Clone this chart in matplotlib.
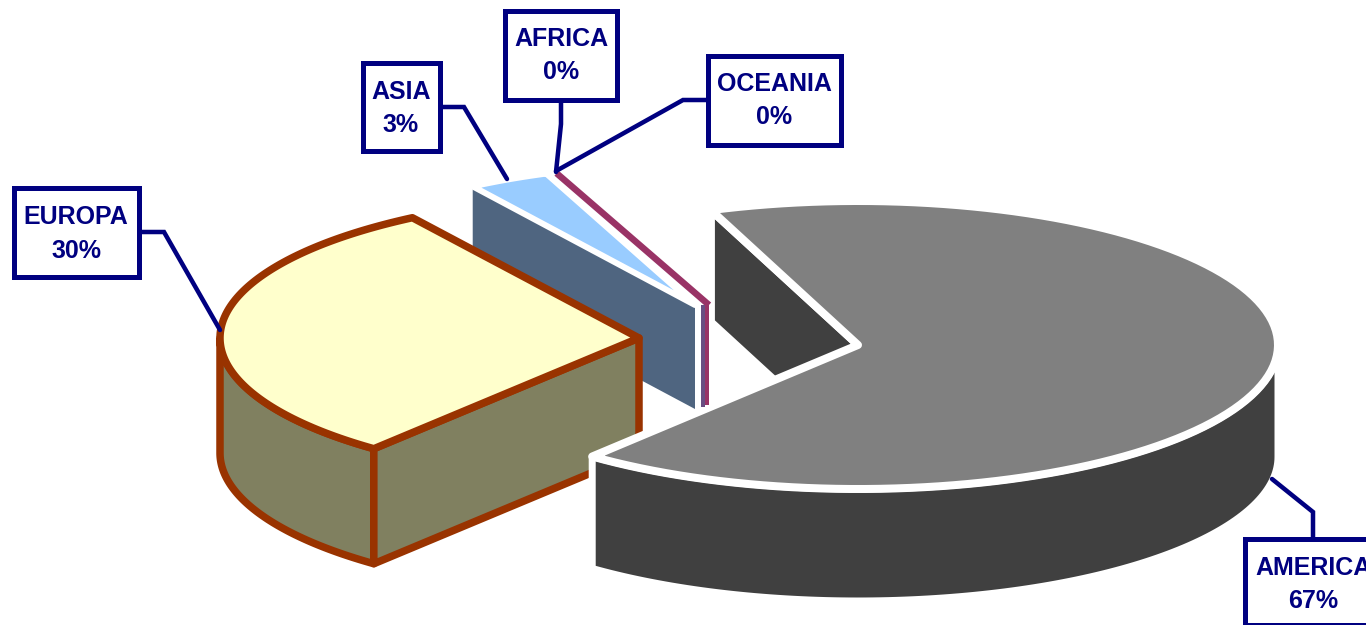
import numpy as np
import matplotlib
matplotlib.use("Agg")
import matplotlib.pyplot as plt

# data, clockwise from the start angle
names = ["AMERICA", "EUROPA", "ASIA", "AFRICA", "OCEANIA"]
shares = [66.6, 30.0, 3.2, 0.1, 0.1]

# layout in pixels
start_angle = 110.5
centers = {"AMERICA": (858, 345), "EUROPA": (639, 338), "ASIA": (695, 305),
           "AFRICA": (709, 305), "OCEANIA": (709, 305)}
radius_x = {"AMERICA": 420, "EUROPA": 419, "ASIA": 411, "AFRICA": 428, "OCEANIA": 428}
radius_y = {"AMERICA": 144, "EUROPA": 143, "ASIA": 141, "AFRICA": 141, "OCEANIA": 141}
depths = {"AMERICA": 112, "EUROPA": 115, "ASIA": 104, "AFRICA": 100, "OCEANIA": 100}
boxes = {"AMERICA": (1245, 539, 1400, 625), "EUROPA": (14, 188, 139, 277),
         "ASIA": (363, 63, 440, 151), "AFRICA": (505, 11, 617, 100),
         "OCEANIA": (708, 56, 841, 145)}
label_y = {"AMERICA": (568, 601), "EUROPA": (217, 251), "ASIA": (92, 125),
           "AFRICA": (39, 72), "OCEANIA": (84, 117)}
label_x = {"AMERICA": 1313, "EUROPA": 76, "ASIA": 401, "AFRICA": 561, "OCEANIA": 774}
leaders = {"AMERICA": [(1313, 537), (1313, 512), (1272, 479)],
           "EUROPA": [(141, 232), (164, 232), (220, 330)],
           "ASIA": [(442, 107), (464, 107), (507, 179)],
           "AFRICA": [(561, 102), (561, 124), (556, 172)],
           "OCEANIA": [(706, 100), (683, 100), (556, 171)]}

NAVY = "#000080"
WHITE = "#FFFFFF"
RUST = "#993300"
PLUM = "#993366"


def px(w):
    return w * 0.72


# angle limits of every slice
angles = {}
a = start_angle
for name, share in zip(names, shares):
    angles[name] = (a, a - share * 3.6)
    a -= share * 3.6


def arc(name, a0, a1, drop=0):
    t = np.radians(np.linspace(a0, a1, 120))
    cx, cy = centers[name]
    return cx + radius_x[name] * np.cos(t), cy - radius_y[name] * np.sin(t) + drop


def poly(ax, xs, ys, fc, ec, lw):
    ax.fill(xs, ys, facecolor=fc, edgecolor=ec, linewidth=px(lw), joinstyle="round")


def top_face(ax, name, fc, ec, lw):
    a0, a1 = angles[name]
    x, y = arc(name, a0, a1)
    cx, cy = centers[name]
    poly(ax, np.r_[cx, x], np.r_[cy, y], fc, ec, lw)


def cut_face(ax, name, angle, fc, ec, lw):
    x, y = arc(name, angle, angle)
    cx, cy = centers[name]
    d = depths[name]
    poly(ax, [x[0], cx, cx, x[0]], [y[0], cy, cy + d, y[0] + d], fc, ec, lw)


def round_wall(ax, name, a0, a1, fc, ec, lw):
    x0, y0 = arc(name, a0, a1)
    x1, y1 = arc(name, a1, a0, depths[name])
    poly(ax, np.r_[x0, x1], np.r_[y0, y1], fc, ec, lw)


fig = plt.figure(figsize=(13.66, 6.25), dpi=100, facecolor="white")
ax = fig.add_axes([0, 0, 1, 1])
ax.set_xlim(0, 1366)
ax.set_ylim(625, 0)
ax.axis("off")

# the two 0% slices only show as a thin line and a strip
x, y = arc("OCEANIA", angles["OCEANIA"][0], angles["OCEANIA"][0])
cx, cy = centers["OCEANIA"]
ax.plot([x[0], cx], [y[0], cy], color=PLUM, lw=px(6.5), solid_capstyle="butt")
ax.plot([cx - 6, cx - 6], [cy, cy + depths["AFRICA"] + 2], color="#694E82", lw=px(4), solid_capstyle="butt")
ax.plot([cx - 2, cx - 2], [cy - 1, cy + depths["OCEANIA"]], color=PLUM, lw=px(4), solid_capstyle="butt")

# asia
cut_face(ax, "ASIA", angles["ASIA"][0], "#4F6580", "none", 0)
top_face(ax, "ASIA", "#99CCFF", WHITE, 6)

# europa, the outer wall is only seen from its left end to the cut
a0, a1 = angles["EUROPA"]
round_wall(ax, "EUROPA", -180, a0, "#808060", RUST, 7.5)
cut_face(ax, "EUROPA", a0, "#808060", RUST, 7.5)
top_face(ax, "EUROPA", "#FFFFCC", RUST, 7.5)

# america
a0, a1 = angles["AMERICA"]
cut_face(ax, "AMERICA", a0, "#404040", WHITE, 8)
round_wall(ax, "AMERICA", a1, 0, "#404040", WHITE, 7)
top_face(ax, "AMERICA", "#808080", WHITE, 8)

# labels
for name, share in zip(names, shares):
    pts = leaders[name]
    ax.plot([p[0] for p in pts], [p[1] for p in pts], color=NAVY, lw=px(4.5),
            solid_capstyle="round", solid_joinstyle="miter", zorder=5)
    l, t, r, b = boxes[name]
    ax.fill([l, r, r, l], [t, t, b, b], facecolor=WHITE, edgecolor=NAVY, linewidth=px(5),
            joinstyle="miter", zorder=6)
    for line, ly in zip([name, f"{share:.0f}%"], label_y[name]):
        ax.text(label_x[name], ly, line, color=NAVY, fontsize=18, fontweight="bold",
                family="Liberation Sans", ha="center", va="center", zorder=7)

fig.savefig("out.png", dpi=100)
